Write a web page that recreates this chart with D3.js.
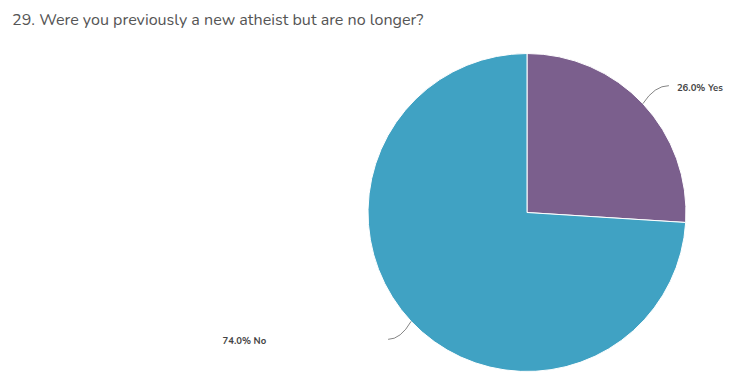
<!DOCTYPE html>
<html><head><meta charset="utf-8">
<script src="https://cdn.jsdelivr.net/npm/d3@7"></script>
<style>body{margin:0;background:#fff;}svg{display:block;font-family:"Nunito","Lato","Open Sans",sans-serif;}</style>
</head><body>
<script>
const title = "29. Were you previously a new atheist but are no longer?";
const categories = ["Yes", "No"];
const values = [26.0, 74.0];
const colors = ["#7b5f8d", "#40a2c3"];

const W = 739, H = 389;
const svg = d3.select("body").append("svg").attr("width", W).attr("height", H);

svg.append("text").attr("x", 12).attr("y", 25)
  .attr("fill", "#555").attr("font-size", 16.1).text(title);

const cx = 527, cy = 212.5, r = 159;
const data = categories.map((c, i) => ({cat: c, val: values[i], color: colors[i]}));
const pie = d3.pie().sort(null).value(d => d.val);
const arc = d3.arc().innerRadius(0).outerRadius(r);
const arcs = pie(data);

const g = svg.append("g").attr("transform", `translate(${cx},${cy})`);
g.selectAll("path.slice").data(arcs).join("path").attr("class", "slice")
  .attr("d", arc).attr("fill", d => d.data.color)
  .attr("stroke", "#fff").attr("stroke-width", 1).attr("stroke-linejoin", "round");

// labels with connectors
const labelCfg = [
  {dx: 26, dy: -18, tx: 8, ty: 5, anchor: "start"},
  {dx: -23, dy: 18, tx: -122, ty: 5, anchor: "end"}
];
arcs.forEach((a, i) => {
  const mid = (a.startAngle + a.endAngle) / 2;
  const px = r * Math.sin(mid), py = -r * Math.cos(mid);
  const cfg = labelCfg[i];
  const ex = px + cfg.dx, ey = py + cfg.dy;
  const qx = px + cfg.dx * 0.45, qy = ey;
  g.append("path")
    .attr("d", `M${px},${py} Q${qx},${qy} ${ex},${ey}`)
    .attr("fill", "none").attr("stroke", "#666").attr("stroke-width", 0.8);
  g.append("text").attr("x", ex + cfg.tx).attr("y", ey + cfg.ty)
    .attr("text-anchor", cfg.anchor).attr("font-size", 9.5).attr("font-weight", 700)
    .attr("fill", "#444").text(`${a.data.val.toFixed(1)}% ${a.data.cat}`);
});
</script>
</body></html>
